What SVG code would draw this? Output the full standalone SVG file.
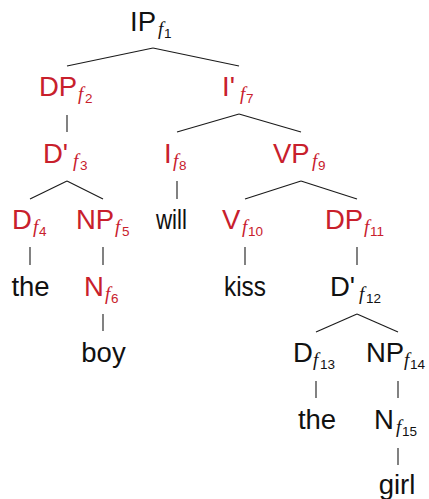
<svg xmlns="http://www.w3.org/2000/svg" width="429" height="499" viewBox="0 0 429 499">
<style>
.m{font-family:"Liberation Sans",Arial,sans-serif;font-size:27.5px;fill:#111}
.r{fill:#c8202c}
.f{font-family:"Liberation Serif","Times New Roman",serif;font-style:italic;font-size:19px}
.n{font-family:"Liberation Sans",Arial,sans-serif;font-size:13.5px}
.leaf{text-anchor:middle}
#edges line{stroke:#1a1a1a;stroke-width:1.1}
</style>
<rect width="429" height="499" fill="#fff"/>
<g id="edges">
<line x1="153" y1="48" x2="67" y2="66"/>
<line x1="153" y1="48" x2="239" y2="66"/>
<line x1="67" y1="115" x2="67" y2="132"/>
<line x1="239" y1="114" x2="177" y2="132"/>
<line x1="239" y1="114" x2="301" y2="132"/>
<line x1="67" y1="181" x2="30" y2="199"/>
<line x1="67" y1="181" x2="103" y2="199"/>
<line x1="177" y1="181" x2="177" y2="199"/>
<line x1="301" y1="181" x2="245" y2="199"/>
<line x1="301" y1="181" x2="357" y2="199"/>
<line x1="30" y1="247" x2="30" y2="265"/>
<line x1="103" y1="247" x2="103" y2="265"/>
<line x1="245" y1="247" x2="245" y2="265"/>
<line x1="357" y1="247" x2="357" y2="265"/>
<line x1="103" y1="314" x2="103" y2="331"/>
<line x1="357" y1="314" x2="316" y2="332"/>
<line x1="357" y1="314" x2="398" y2="332"/>
<line x1="316" y1="381" x2="316" y2="398"/>
<line x1="398" y1="381" x2="398" y2="398"/>
<line x1="398" y1="448" x2="398" y2="465"/>
</g>
<g id="IP"><text class="m" x="130" y="31">IP<tspan class="f" x="158" y="35">f</tspan><tspan class="n" x="164" y="38">1</tspan></text></g>
<g id="DP2"><text class="m r" x="39" y="96">DP<tspan class="f" x="78" y="100">f</tspan><tspan class="n" x="85" y="103">2</tspan></text></g>
<g id="Ibar7"><text class="m r" x="222" y="96">I'<tspan class="f" x="240" y="100">f</tspan><tspan class="n" x="246" y="103">7</tspan></text></g>
<g id="Dbar3"><text class="m r" x="43" y="163">D'<tspan class="f" x="73" y="167">f</tspan><tspan class="n" x="80" y="170">3</tspan></text></g>
<g id="I8"><text class="m r" x="164" y="163">I<tspan class="f" x="173" y="167">f</tspan><tspan class="n" x="179" y="170">8</tspan></text></g>
<g id="VP9"><text class="m r" x="273" y="163">VP<tspan class="f" x="312" y="167">f</tspan><tspan class="n" x="318" y="170">9</tspan></text></g>
<g id="D4"><text class="m r" x="12" y="229">D<tspan class="f" x="33" y="233">f</tspan><tspan class="n" x="39" y="236">4</tspan></text></g>
<g id="NP5"><text class="m r" x="76" y="229">NP<tspan class="f" x="115" y="233">f</tspan><tspan class="n" x="122" y="236">5</tspan></text></g>
<g id="will"><text class="m leaf" x="171.5" y="229" textLength="31" lengthAdjust="spacingAndGlyphs">will</text></g>
<g id="V10"><text class="m r" x="222" y="229">V<tspan class="f" x="242" y="233">f</tspan><tspan class="n" x="248" y="236">10</tspan></text></g>
<g id="DP11"><text class="m r" x="325" y="229">DP<tspan class="f" x="364" y="233">f</tspan><tspan class="n" x="370" y="236">11</tspan></text></g>
<g id="the1"><text class="m leaf" x="30.5" y="296">the</text></g>
<g id="N6"><text class="m r" x="84" y="296">N<tspan class="f" x="105" y="300">f</tspan><tspan class="n" x="111" y="303">6</tspan></text></g>
<g id="kiss"><text class="m leaf" x="245" y="296" textLength="42" lengthAdjust="spacingAndGlyphs">kiss</text></g>
<g id="Dbar12"><text class="m" x="330" y="296">D'<tspan class="f" x="359" y="300">f</tspan><tspan class="n" x="366" y="303">12</tspan></text></g>
<g id="boy"><text class="m leaf" x="103.5" y="362">boy</text></g>
<g id="D13"><text class="m" x="293" y="362">D<tspan class="f" x="313" y="366">f</tspan><tspan class="n" x="320" y="369">13</tspan></text></g>
<g id="NP14"><text class="m" x="366" y="362">NP<tspan class="f" x="404" y="366">f</tspan><tspan class="n" x="410" y="369">14</tspan></text></g>
<g id="the2"><text class="m leaf" x="317" y="429">the</text></g>
<g id="N15"><text class="m" x="374" y="429">N<tspan class="f" x="396" y="433">f</tspan><tspan class="n" x="402" y="436">15</tspan></text></g>
<g id="girl"><text class="m leaf" x="397" y="494">girl</text></g>
</svg>
